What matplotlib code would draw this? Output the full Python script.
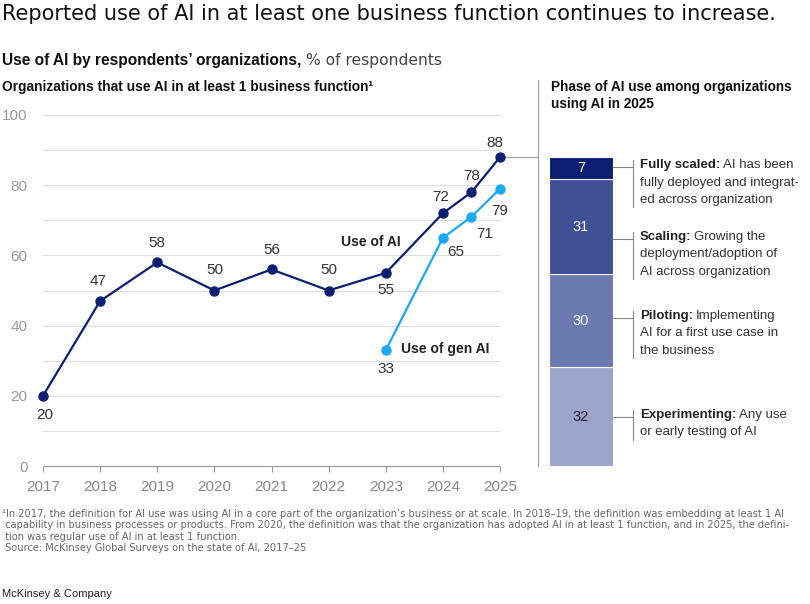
import matplotlib
matplotlib.use("Agg")
import matplotlib.pyplot as plt
from matplotlib.lines import Line2D

plt.rcParams['font.family'] = ['Liberation Sans', 'DejaVu Sans']

# data
years = [2017, 2018, 2019, 2020, 2021, 2022, 2023, 2024, 2024.5, 2025]
use_ai = [20, 47, 58, 50, 56, 50, 55, 72, 78, 88]
gen_years = [2023, 2024, 2024.5, 2025]
use_gen_ai = [33, 65, 71, 79]

phases = ["Experimenting", "Piloting", "Scaling", "Fully scaled"]
phase_vals = [32, 30, 31, 7]
phase_desc = [
    ["Any use", "or early testing of AI"],
    ["Implementing", "AI for a first use case in", "the business"],
    ["Growing the", "deployment/adoption of", "AI across organization"],
    ["AI has been", "fully deployed and integrat-", "ed across organization"],
]

NAVY = "#0b1f73"
LIGHT = "#1aa9f0"
bar_colors = ["#9ba5cb", "#6b79b1", "#3f5194", "#0b1f73"]
bar_text = ["#222222", "white", "white", "white"]

W, H = 810, 604
fig = plt.figure(figsize=(W / 100, H / 100), dpi=100)
fig.canvas.draw()
renderer = fig.canvas.get_renderer()


def fx(x):
    return x / W


def fy(y):
    return 1 - y / H


def fit(t, width_px):
    # scale font so the text spans the same width as in the original
    w = t.get_window_extent(renderer).width
    t.set_fontsize(t.get_fontsize() * width_px / w)
    return t


# left line chart
ax = fig.add_axes([fx(43), fy(466), fx(500) - fx(43), fy(115) - fy(466)])
ax.set_xlim(2017, 2025)
ax.set_ylim(0, 100)
for v in range(10, 101, 10):
    ax.axhline(v, color="#dddddd", lw=0.8, zorder=0)
for s in ["top", "right", "left"]:
    ax.spines[s].set_visible(False)
ax.spines["bottom"].set_color("#999999")
ax.spines["bottom"].set_linewidth(0.8)
ax.set_xticks(range(2017, 2026))
ax.set_yticks(range(0, 101, 20))
ax.tick_params(axis="x", length=4, width=0.8, color="#999999", labelcolor="#888888",
               labelsize=11, pad=6)
ax.tick_params(axis="y", length=0, labelcolor="#999999", labelsize=11, pad=11)

ax.plot(years, use_ai, color=NAVY, lw=1.6, marker="o", ms=6.5, zorder=3, clip_on=False)
ax.plot(gen_years, use_gen_ai, color=LIGHT, lw=1.6, marker="o", ms=6.5, zorder=3, clip_on=False)

ai_off = [(2, -19), (-2, 20), (0, 19), (0, 20), (0, 19), (0, 20), (0, -17), (-2, 16), (0, 16), (-5, 14)]
for x, v, o in zip(years, use_ai, ai_off):
    ax.annotate(str(v), (x, v), xytext=o, textcoords="offset pixels", ha="center",
                va="center", fontsize=11, color="#333333")
gen_off = [(0, -19), (13, -14), (13, -17), (0, -22)]
for x, v, o in zip(gen_years, use_gen_ai, gen_off):
    ax.annotate(str(v), (x, v), xytext=o, textcoords="offset pixels", ha="center",
                va="center", fontsize=11, color="#333333")

ax.text(2022.73, 63.8, "Use of AI", ha="center", va="center", fontsize=10,
        fontweight="bold", color="#222222")
ax.text(2023.27, 33.3, "Use of gen AI", ha="left", va="center", fontsize=10,
        fontweight="bold", color="#222222")

# connector from 2025 point to the bar
ax.plot([2025.1, 2025.65], [use_ai[-1], use_ai[-1]], color="#aaaaaa", lw=1, clip_on=False)

# right stacked bar, scaled to the 2025 share
bx = fig.add_axes([fx(549), fy(466), fx(613) - fx(549), fy(115) - fy(466)])
bx.set_xlim(0, 1)
bx.set_ylim(0, 100)
bx.axis("off")
scale = use_ai[-1] / 100
bottom = 0
for v, c, tc in zip(phase_vals, bar_colors, bar_text):
    h = v * scale
    bx.bar(0.5, h, width=1, bottom=bottom, color=c, edgecolor="white", lw=0.8)
    bx.text(0.5, bottom + h / 2, str(v), ha="center", va="center", fontsize=10.5, color=tc)
    bottom += h

# separator
fig.add_artist(Line2D([fx(538), fx(538)], [fy(80), fy(466)], color="#999999", lw=0.8))

# phase descriptions
first_y = [415, 316, 237, 165]
line_h = 17.5
for name, desc, y0 in zip(phases, phase_desc, first_y):
    t = fig.text(fx(640), fy(y0), name + ":", ha="left", va="center", fontsize=9.5,
                 fontweight="bold", color="#222222")
    bb = t.get_window_extent(renderer)
    fig.text((bb.x1 + 3) / W, fy(y0), desc[0], ha="left", va="center", fontsize=9.5,
             color="#333333")
    for i, line in enumerate(desc[1:], start=1):
        fig.text(fx(640), fy(y0 + i * line_h), line, ha="left", va="center",
                 fontsize=9.5, color="#333333")
    y_end = y0 + (len(desc) - 1) * line_h + 7
    fig.add_artist(Line2D([fx(633), fx(633)], [fy(y0 - 5), fy(y_end)], color="#888888", lw=0.8))
    fig.add_artist(Line2D([fx(613), fx(633)], [fy(y0 + 2), fy(y0 + 2)], color="#888888", lw=0.8))

# titles
t = fig.text(fx(2), fy(14), "Reported use of AI in at least one business function continues to increase.",
             ha="left", va="center", fontsize=14.5, color="#111111", family="DejaVu Sans")
fit(t, 778)
t = fig.text(fx(2), fy(60), "Use of AI by respondents\u2019 organizations,", ha="left", va="center",
             fontsize=11.2, fontweight="bold", color="#111111")
bb = t.get_window_extent(renderer)
fig.text((bb.x1 + 5) / W, fy(60), "% of respondents", ha="left", va="center", fontsize=11.2,
         color="#444444", family="DejaVu Sans")
t = fig.text(fx(2), fy(87), "Organizations that use AI in at least 1 business function\u00b9", ha="left",
             va="center", fontsize=9.8, fontweight="bold", color="#111111")
fit(t, 368)
for i, line in enumerate(["Phase of AI use among organizations", "using AI in 2025"]):
    fig.text(fx(551), fy(87 + i * 17), line, ha="left", va="center", fontsize=9.8,
             fontweight="bold", color="#111111")

foot = [
    "\u00b9In 2017, the definition for AI use was using AI in a core part of the organization\u2019s business or at scale. In 2018\u201319, the definition was embedding at least 1 AI",
    " capability in business processes or products. From 2020, the definition was that the organization has adopted AI in at least 1 function, and in 2025, the defini-",
    " tion was regular use of AI in at least 1 function.",
    " Source: McKinsey Global Surveys on the state of AI, 2017\u201325",
]
ft = [fig.text(fx(2), fy(514 + i * 11.3), line, ha="left", va="center", fontsize=7,
               color="#666666", family="DejaVu Sans") for i, line in enumerate(foot)]
w0 = ft[0].get_window_extent(renderer).width
for t in ft:
    t.set_fontsize(7 * 788 / w0)

fig.text(fx(2), fy(594), "McKinsey & Company", ha="left", va="center", fontsize=8, color="#222222")

fig.savefig("out.png", dpi=100)
